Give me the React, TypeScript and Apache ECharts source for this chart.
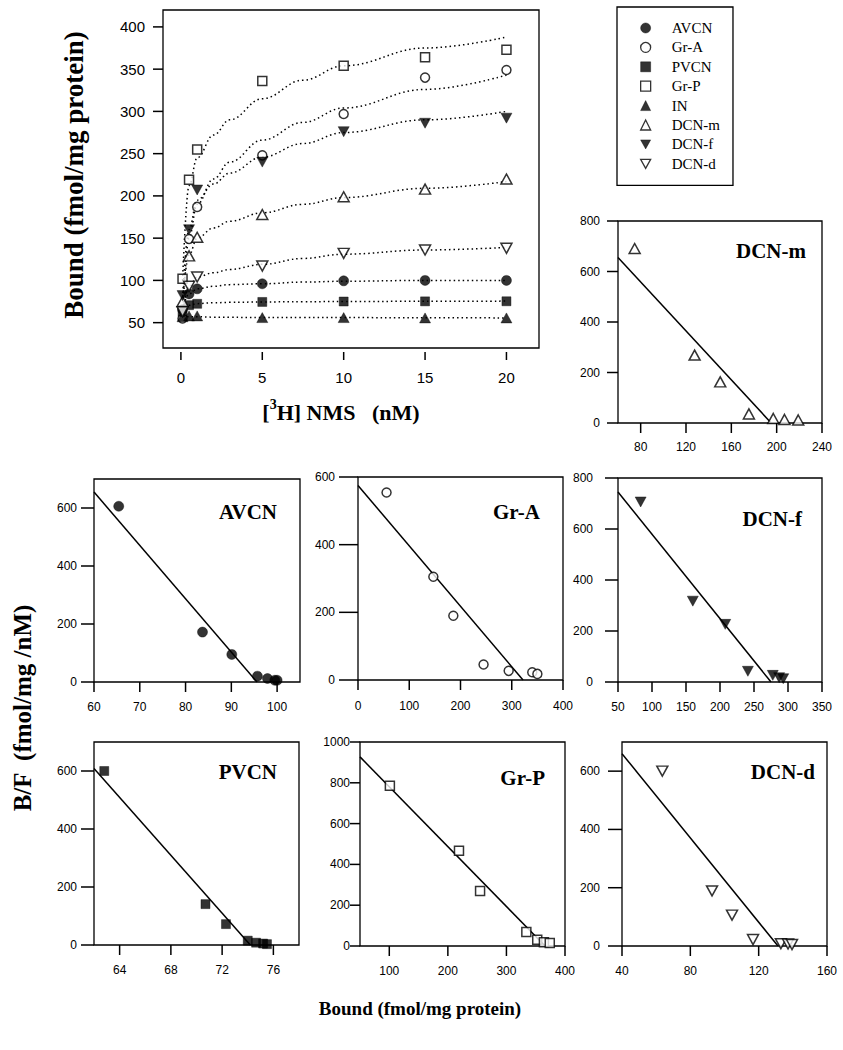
import { useEffect, useRef } from "react";
import * as echarts from "echarts";

// ---------------- data ----------------
const regionNames = ["AVCN", "Gr-A", "PVCN", "Gr-P", "IN", "DCN-m", "DCN-f", "DCN-d"];

// saturation curves: [3H] NMS concentration (nM) vs bound (fmol/mg protein)
const nmsConc = [0.1, 0.5, 1, 5, 10, 15, 20];
const boundAVCN = [65.5, 84, 90, 96, 99.5, 100, 100];
const boundGrA = [55, 149, 187, 248, 297, 340, 349];
const boundPVCN = [62.8, 70.7, 72.3, 74.5, 75, 75.2, 75.3];
const boundGrP = [102, 219, 255, 336, 354, 364, 373];
const boundIN = [57, 58, 58, 56, 56, 55.6, 55.6];
const boundDCNm = [75, 129, 151, 178, 199, 208, 220];
const boundDCNf = [82, 160, 207, 240, 276, 286, 292];
const boundDCNd = [63, 93, 104, 117, 132, 136, 138];

// dotted fitted curves
const fitConc = [0.1, 0.5, 1, 2, 3, 5, 7.5, 10, 15, 20];
const fitAVCN = [66, 84, 90, 93, 95, 96, 98, 99, 100, 100];
const fitGrA = [58, 150, 190, 220, 240, 266, 287, 304, 326, 343];
const fitPVCN = [63, 70.5, 72.5, 73.5, 74, 74.5, 74.8, 75, 75.3, 75.5];
const fitGrP = [100, 212, 245, 272, 290, 315, 337, 354, 375, 388];
const fitIN = [57, 57, 57, 56.5, 56.3, 56, 56, 56, 55.8, 55.6];
const fitDCNm = [76, 130, 150, 162, 170, 180, 190, 198, 209, 217];
const fitDCNf = [80, 160, 195, 214, 227, 246, 262, 275, 290, 300];
const fitDCNd = [64, 92, 104, 109, 113, 119, 126, 131, 136, 139];

// Scatchard plots: bound (fmol/mg protein) vs B/F (fmol/mg/nM)
const scatB_AVCN = [65.4, 83.7, 90.1, 95.7, 97.9, 99.5, 100];
const scatBF_AVCN = [606, 172, 95, 20, 12, 6, 6];
const lineB_AVCN = [60, 95.6];
const lineBF_AVCN = [655, 0];

const scatB_GrA = [55.7, 147, 186, 245, 294, 340, 350];
const scatBF_GrA = [554, 305, 190, 46, 27, 23, 18];
const lineB_GrA = [0, 322];
const lineBF_GrA = [575, 0];

const scatB_DCNf = [83.3, 160, 207.7, 241, 277.6, 287, 293];
const scatBF_DCNf = [706, 317, 226, 42, 26, 17, 13];
const lineB_DCNf = [50, 275];
const lineBF_DCNf = [745, 0];

const scatB_PVCN = [62.8, 70.7, 72.3, 74.0, 74.65, 75.2, 75.5];
const scatBF_PVCN = [600, 141, 72, 15, 8, 5, 3];
const lineB_PVCN = [62, 74.2];
const lineBF_PVCN = [609, 0];

const scatB_GrP = [101, 219, 255, 334, 352.6, 364, 374];
const scatBF_GrP = [785, 467, 270, 69, 31, 18, 15];
const lineB_GrP = [50, 366];
const lineBF_GrP = [927, 0];

const scatB_DCNd = [63.6, 92.7, 104.4, 116.7, 133, 137.2, 139.5];
const scatBF_DCNd = [600, 189, 106, 22, 8, 7, 5];
const lineB_DCNd = [40, 131.3];
const lineBF_DCNd = [660, 0];

const scatB_DCNm = [74.7, 127.6, 150.2, 175.5, 197, 206.9, 219];
const scatBF_DCNm = [691, 269, 163, 36, 18, 14, 12];
const lineB_DCNm = [60, 195.2];
const lineBF_DCNm = [655, 0];

// tick labels
const mainXTicks = [0, 5, 10, 15, 20];
const mainYTicks = [50, 100, 150, 200, 250, 300, 350, 400];
const xTicksAVCN = [60, 70, 80, 90, 100];
const xTicksGrA = [0, 100, 200, 300, 400];
const xTicksDCNf = [50, 100, 150, 200, 250, 300, 350];
const xTicksPVCN = [64, 68, 72, 76];
const xTicksGrP = [100, 200, 300, 400];
const xTicksDCNd = [40, 80, 120, 160];
const xTicksDCNm = [80, 120, 160, 200, 240];
const yTicks600 = [0, 200, 400, 600];
const yTicks800 = [0, 200, 400, 600, 800];
const yTicks1000 = [0, 200, 400, 600, 800, 1000];

// ---------------- styling ----------------
const SERIF = '"Liberation Serif", "Times New Roman", serif';
const SANS = '"Liberation Sans", Arial, sans-serif';
const DOWN_TRIANGLE = "path://M0,0L20,0L10,18Z";

type Marker = { symbol: string; size: number | number[]; filled: boolean; rotate?: number };
const markers: Record<string, Marker> = {
  AVCN: { symbol: "circle", size: 10, filled: true },
  "Gr-A": { symbol: "circle", size: 9, filled: false },
  PVCN: { symbol: "rect", size: 9, filled: true },
  "Gr-P": { symbol: "rect", size: 9, filled: false },
  IN: { symbol: "triangle", size: [11, 10], filled: true },
  "DCN-m": { symbol: "triangle", size: [11, 10], filled: false },
  "DCN-f": { symbol: "triangle", size: [11, 10], filled: true, rotate: 180 },
  "DCN-d": { symbol: "triangle", size: [11, 10], filled: false, rotate: 180 },
};

function styleOf(name: string) {
  return markers[name].filled
    ? { color: "#000", borderColor: "#000", borderWidth: 0.5 }
    : { color: "#fff", borderColor: "#000", borderWidth: 1.5 };
}

function markerProps(name: string) {
  const m = markers[name];
  return {
    symbol: m.symbol,
    symbolSize: m.size,
    symbolRotate: m.rotate || 0,
    itemStyle: styleOf(name),
  };
}

function makeAxis(
  gridIndex: number,
  min: number,
  max: number,
  ticks: number[],
  o: { margin: number; fontSize: number }
) {
  return {
    type: "value",
    gridIndex,
    min,
    max,
    axisLine: { show: false, onZero: false },
    splitLine: { show: false },
    axisTick: { show: false },
    axisLabel: {
      show: true,
      customValues: ticks,
      margin: o.margin,
      fontSize: o.fontSize,
      fontFamily: SANS,
      color: "#000",
      formatter: (v: number) => String(v),
    },
  };
}

type Box = { left: number; top: number; width: number; height: number };

// tick marks as thin filled rectangles, placed with the same linear mapping as the value axes
function tickRects(
  id: string, dir: "x" | "y", ticks: number[], box: Box, range: number[], len: number, gap: number
) {
  const w = 1.5;
  return ticks.map((v, j) => {
    const t = (v - range[0]) / (range[1] - range[0]);
    const shape =
      dir === "x"
        ? { x: box.left + t * box.width - w / 2, y: box.top + box.height + gap, width: w, height: len }
        : { x: box.left - gap - len, y: box.top + box.height - t * box.height - w / 2, width: len, height: w };
    return {
      type: "rect",
      id: `${id}-${dir}-${j}`,
      shape,
      silent: true,
      z: 100,
      style: { fill: "#000" },
    };
  });
}

function buildOption() {
  const grid: any[] = [];
  const xAxis: any[] = [];
  const yAxis: any[] = [];
  const series: any[] = [];
  const graphic: any[] = [];

  // ---- main saturation plot ----
  const mainBox = { left: 163, top: 10, width: 376, height: 338 };
  const mainXR = [-1.1, 22];
  const mainYR = [20, 420];
  grid.push({ ...mainBox, show: true, borderColor: "#000", borderWidth: 1.3 });
  xAxis.push(makeAxis(0, mainXR[0], mainXR[1], mainXTicks, { margin: 22, fontSize: 15 }));
  yAxis.push(makeAxis(0, mainYR[0], mainYR[1], mainYTicks, { margin: 18, fontSize: 15 }));
  graphic.push(...tickRects("main", "x", mainXTicks, mainBox, mainXR, 8, 4));
  graphic.push(...tickRects("main", "y", mainYTicks, mainBox, mainYR, 10, 0));

  const mainSets = [
    { name: "AVCN", pts: boundAVCN, fit: fitAVCN },
    { name: "Gr-A", pts: boundGrA, fit: fitGrA },
    { name: "PVCN", pts: boundPVCN, fit: fitPVCN },
    { name: "Gr-P", pts: boundGrP, fit: fitGrP },
    { name: "IN", pts: boundIN, fit: fitIN },
    { name: "DCN-m", pts: boundDCNm, fit: fitDCNm },
    { name: "DCN-f", pts: boundDCNf, fit: fitDCNf },
    { name: "DCN-d", pts: boundDCNd, fit: fitDCNd },
  ];
  mainSets.forEach((s) => {
    series.push({
      type: "line",
      name: s.name + " fit",
      xAxisIndex: 0,
      yAxisIndex: 0,
      data: fitConc.map((x, i) => [x, s.fit[i]]),
      smooth: 0.4,
      smoothMonotone: "x",
      symbol: "none",
      silent: true,
      lineStyle: { color: "#000", width: 1.5, type: [1.5, 3] },
      z: 2,
    });
  });
  mainSets.forEach((s) => {
    series.push({
      type: "scatter",
      name: s.name,
      xAxisIndex: 0,
      yAxisIndex: 0,
      data: nmsConc.map((x, i) => [x, s.pts[i]]),
      ...markerProps(s.name),
      z: 5,
    });
  });

  // ---- Scatchard panels ----
  const panels = [
    {
      name: "DCN-m", b: scatB_DCNm, bf: scatBF_DCNm, lb: lineB_DCNm, lbf: lineBF_DCNm,
      box: { left: 618, top: 221, width: 204, height: 202 },
      x: [60, 240, xTicksDCNm], y: [0, 800, yTicks800], yTick: 11, yMargin: 18, xMargin: 18,
      label: [806, 251],
    },
    {
      name: "AVCN", b: scatB_AVCN, bf: scatBF_AVCN, lb: lineB_AVCN, lbf: lineBF_AVCN,
      box: { left: 94, top: 479, width: 206, height: 203 },
      x: [60, 105, xTicksAVCN], y: [0, 700, yTicks600], yTick: 13, yMargin: 17, xMargin: 19,
      label: [277, 512],
    },
    {
      name: "Gr-A", b: scatB_GrA, bf: scatBF_GrA, lb: lineB_GrA, lbf: lineBF_GrA,
      box: { left: 358, top: 477, width: 205, height: 203 },
      x: [0, 400, xTicksGrA], y: [0, 600, yTicks600], yTick: 19, yMargin: 23, xMargin: 20,
      label: [540, 512],
    },
    {
      name: "DCN-f", b: scatB_DCNf, bf: scatBF_DCNf, lb: lineB_DCNf, lbf: lineBF_DCNf,
      box: { left: 618, top: 478, width: 204, height: 204 },
      x: [50, 350, xTicksDCNf], y: [0, 800, yTicks800], yTick: 13, yMargin: 25, xMargin: 19,
      label: [802, 519],
    },
    {
      name: "PVCN", b: scatB_PVCN, bf: scatBF_PVCN, lb: lineB_PVCN, lbf: lineBF_PVCN,
      box: { left: 94, top: 742, width: 205, height: 203 },
      x: [62, 78, xTicksPVCN], y: [0, 700, yTicks600], yTick: 13, yMargin: 17, xMargin: 19,
      label: [277, 772],
    },
    {
      name: "Gr-P", b: scatB_GrP, bf: scatBF_GrP, lb: lineB_GrP, lbf: lineBF_GrP,
      box: { left: 360, top: 742, width: 205, height: 204 },
      x: [50, 400, xTicksGrP], y: [0, 1000, yTicks1000], yTick: 10, yMargin: 10, xMargin: 19,
      label: [545, 778],
    },
    {
      name: "DCN-d", b: scatB_DCNd, bf: scatBF_DCNd, lb: lineB_DCNd, lbf: lineBF_DCNd,
      box: { left: 622, top: 742, width: 205, height: 204 },
      x: [40, 160, xTicksDCNd], y: [0, 700, yTicks600], yTick: 14, yMargin: 22, xMargin: 19,
      label: [815, 772],
    },
  ];

  panels.forEach((p, k) => {
    const gi = k + 1;
    const xr = p.x as any[];
    const yr = p.y as any[];
    grid.push({ ...p.box, show: true, borderColor: "#000", borderWidth: 1.3 });
    xAxis.push(makeAxis(gi, xr[0], xr[1], xr[2], { margin: p.xMargin, fontSize: 12 }));
    yAxis.push(makeAxis(gi, yr[0], yr[1], yr[2], { margin: p.yMargin, fontSize: 12 }));
    graphic.push(...tickRects("p" + gi, "x", xr[2], p.box, [xr[0], xr[1]], 10, 0));
    graphic.push(...tickRects("p" + gi, "y", yr[2], p.box, [yr[0], yr[1]], p.yTick, 0));
    series.push({
      type: "line",
      name: p.name + " Scatchard fit",
      xAxisIndex: gi,
      yAxisIndex: gi,
      data: p.lb.map((x, i) => [x, p.lbf[i]]),
      symbol: "none",
      silent: true,
      lineStyle: { color: "#000", width: 1.5 },
      z: 2,
    });
    series.push({
      type: "scatter",
      name: p.name + " Scatchard",
      xAxisIndex: gi,
      yAxisIndex: gi,
      data: p.b.map((x, i) => [x, p.bf[i]]),
      ...markerProps(p.name),
      z: 5,
    });
    graphic.push({
      type: "text",
      id: "panel-label-" + p.name,
      x: p.label[0],
      y: p.label[1],
      style: {
        text: p.name,
        fontFamily: SERIF,
        fontWeight: "bold",
        fontSize: 21,
        fill: "#000",
        align: "right",
        verticalAlign: "middle",
      },
    });
  });

  // ---- axis titles ----
  graphic.push({
    type: "text",
    id: "title-main-y",
    x: 74,
    y: 175,
    rotation: Math.PI / 2,
    style: {
      text: "Bound (fmol/mg protein)",
      fontFamily: SERIF,
      fontWeight: "bold",
      fontSize: 27,
      fill: "#000",
      align: "center",
      verticalAlign: "middle",
    },
  });
  graphic.push({
    type: "text",
    id: "title-main-x",
    x: 341,
    y: 410,
    style: {
      text: "{a|[}{s|3}{a|H] NMS   (nM)}",
      fill: "#000",
      align: "center",
      verticalAlign: "middle",
      rich: {
        a: { fontFamily: SERIF, fontWeight: "bold", fontSize: 22, fill: "#000", lineHeight: 26, verticalAlign: "bottom" },
        s: { fontFamily: SERIF, fontWeight: "bold", fontSize: 14, fill: "#000", lineHeight: 14, verticalAlign: "top", padding: [0, 0, 10, 0] },
      },
    },
  });
  graphic.push({
    type: "text",
    id: "title-bf",
    x: 22,
    y: 708,
    rotation: Math.PI / 2,
    style: {
      text: "B/F  (fmol/mg /nM)",
      fontFamily: SERIF,
      fontWeight: "bold",
      fontSize: 25,
      fill: "#000",
      align: "center",
      verticalAlign: "middle",
    },
  });
  graphic.push({
    type: "text",
    id: "title-bound",
    x: 420,
    y: 1008,
    style: {
      text: "Bound (fmol/mg protein)",
      fontFamily: SERIF,
      fontWeight: "bold",
      fontSize: 19,
      fill: "#000",
      align: "center",
      verticalAlign: "middle",
    },
  });

  const legendData = regionNames.map((n) => {
    const m = markers[n];
    return {
      name: n,
      icon: m.rotate ? DOWN_TRIANGLE : m.symbol,
      itemStyle: { ...styleOf(n), borderWidth: m.filled ? 0.5 : 1.3 },
    };
  });

  return {
    animation: false,
    backgroundColor: "#fff",
    grid,
    xAxis,
    yAxis,
    series,
    graphic: { elements: graphic },
    legend: {
      data: legendData,
      orient: "vertical",
      left: 617,
      top: 7,
      itemWidth: 10,
      itemHeight: 10,
      itemGap: 4.4,
      padding: [13.5, 13, 14, 23],
      borderColor: "#000",
      borderWidth: 1.3,
      selectedMode: false,
      textStyle: { fontFamily: SERIF, fontSize: 15, color: "#000", padding: [0, 0, 0, 16] },
    },
  };
}

export default function App() {
  const ref = useRef<HTMLDivElement>(null);
  useEffect(() => {
    if (!ref.current) return;
    const chart = echarts.init(ref.current, null, { renderer: "svg" });
    chart.setOption(buildOption() as any);
    return () => chart.dispose();
  }, []);
  return (
    <div
      ref={ref}
      style={{ position: "absolute", left: 0, top: 0, width: 843, height: 1050, background: "#fff" }}
    />
  );
}
